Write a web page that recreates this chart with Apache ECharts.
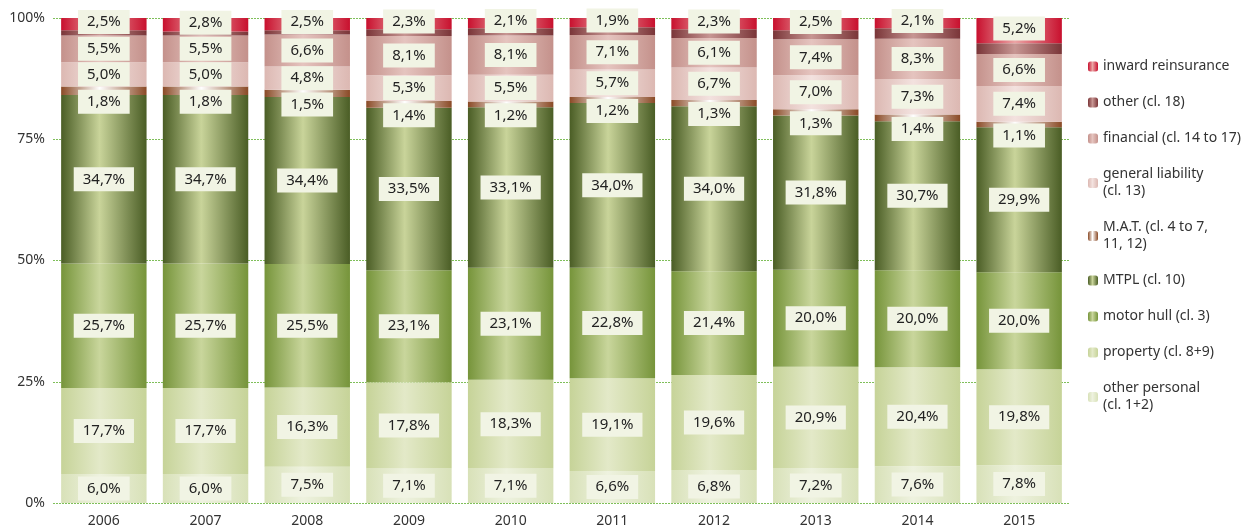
<!DOCTYPE html>
<html>
<head>
<meta charset="utf-8">
<script src="https://cdn.jsdelivr.net/npm/echarts@6/dist/echarts.min.js"></script>
<style>
  html, body { margin: 0; padding: 0; background: #fff; }
  #chart { width: 1250px; height: 530px; }
</style>
</head>
<body>
<div id="chart"></div>
<script>
const years = ['2006', '2007', '2008', '2009', '2010', '2011', '2012', '2013', '2014', '2015'];
const yTicks = ['0%', '25%', '50%', '75%', '100%'];

// shares per line of business, bottom of the stack first
const otherPersonal = [6.0, 6.0, 7.5, 7.1, 7.1, 6.6, 6.8, 7.2, 7.6, 7.8];
const property = [17.7, 17.7, 16.3, 17.8, 18.3, 19.1, 19.6, 20.9, 20.4, 19.8];
const motorHull = [25.7, 25.7, 25.5, 23.1, 23.1, 22.8, 21.4, 20.0, 20.0, 20.0];
const mtpl = [34.7, 34.7, 34.4, 33.5, 33.1, 34.0, 34.0, 31.8, 30.7, 29.9];
const mat = [1.8, 1.8, 1.5, 1.4, 1.2, 1.2, 1.3, 1.3, 1.4, 1.1];
const generalLiability = [5.0, 5.0, 4.8, 5.3, 5.5, 5.7, 6.7, 7.0, 7.3, 7.4];
const financial = [5.5, 5.5, 6.6, 8.1, 8.1, 7.1, 6.1, 7.4, 8.3, 6.6];
const otherCl18 = [1.1, 0.8, 0.9, 1.4, 1.5, 1.6, 1.8, 1.9, 2.2, 2.2];
const inwardRe = [2.5, 2.8, 2.5, 2.3, 2.1, 1.9, 2.3, 2.5, 2.1, 5.2];

const chart = echarts.init(document.getElementById('chart'));

function tube(edge, mid) {
  return new echarts.graphic.LinearGradient(0, 0, 1, 0, [
    { offset: 0, color: edge },
    { offset: 0.45, color: mid },
    { offset: 1, color: edge }
  ]);
}

function fmt(p) {
  return p.value.toFixed(1).replace('.', ',') + '%';
}

const labelBox = {
  show: true,
  position: 'inside',
  formatter: fmt,
  color: '#222',
  fontSize: 15,
  lineHeight: 17,
  fontFamily: 'Noto Sans',
  backgroundColor: '#f1f4e4',
  padding: [4, 9, 3, 9]
};

function layer(name, data, edge, mid, label) {
  return {
    name: name,
    type: 'bar',
    stack: 'total',
    barCategoryGap: '16%',
    data: data,
    itemStyle: { color: tube(edge, mid) },
    label: label === false ? { show: false } : Object.assign({}, labelBox, label || {}),
    emphasis: { disabled: true }
  };
}

const series = [
  layer('other personal\n(cl. 1+2)', otherPersonal, '#d8e1b8', '#eef2df'),
  layer('property (cl. 8+9)', property, '#c6d398', '#e3e9c8'),
  layer('motor hull (cl. 3)', motorHull, '#76943a', '#c9d69c'),
  layer('MTPL (cl. 10)', mtpl, '#4a5d25', '#c9d49a'),
  layer('M.A.T. (cl. 4 to 7,\n11, 12)', mat, '#8a4a26', '#ffffff', { offset: [0, 11] }),
  layer('general liability\n(cl. 13)', generalLiability, '#dcb8b2', '#f3e2df'),
  layer('financial (cl. 14 to 17)', financial, '#c4918b', '#e5c4bf'),
  layer('other (cl. 18)', otherCl18, '#7a3538', '#c79693', false),
  layer('inward reinsurance', inwardRe, '#c8102e', '#eba5a5', { offset: [0, -2] })
];

chart.setOption({
  animation: false,
  textStyle: { fontFamily: 'Noto Sans' },
  grid: { left: 53, right: 180, top: 18, bottom: 27 },
  legend: {
    orient: 'vertical',
    left: 1083,
    top: 53,
    itemWidth: 10,
    itemHeight: 10,
    itemGap: 19,
    selectedMode: false,
    data: series.map(s => s.name).reverse(),
    textStyle: { color: '#333', fontSize: 14, lineHeight: 17, fontFamily: 'Noto Sans' }
  },
  xAxis: {
    type: 'category',
    data: years,
    axisLine: { show: false },
    axisTick: { show: false },
    axisLabel: { color: '#333', fontSize: 14, margin: 11 }
  },
  yAxis: {
    type: 'value',
    min: 0,
    max: 100,
    interval: 25,
    axisLine: { show: false },
    axisTick: { show: false },
    axisLabel: {
      color: '#333',
      fontSize: 14,
      margin: 8,
      formatter: v => yTicks[v / 25]
    },
    splitLine: { lineStyle: { color: '#7fbf5a', type: [2, 1], width: 1 } }
  },
  series: series
});
</script>
</body>
</html>
